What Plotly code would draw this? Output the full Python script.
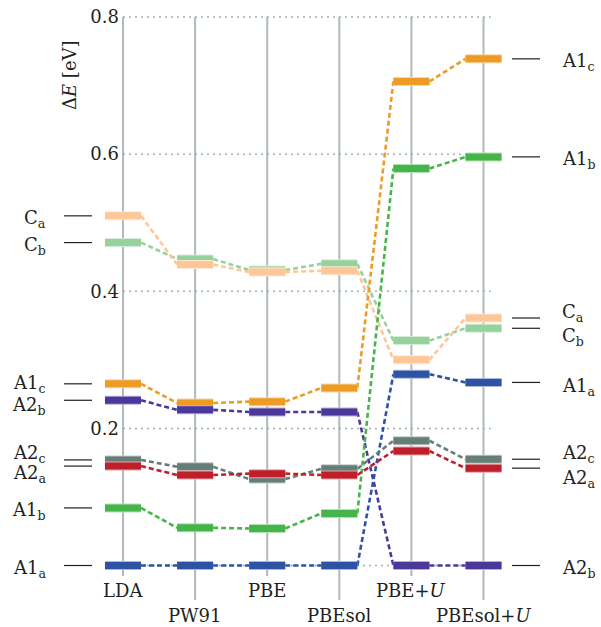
import plotly.graph_objects as go

# Exchange-correlation functionals (one column each)
methods = ["LDA", "PW91", "PBE", "PBEsol", "PBE+<i>U</i>", "PBEsol+<i>U</i>"]

# Relative energies ΔE [eV] of each configuration per functional
Ca  = [0.510, 0.439, 0.428, 0.430, 0.300, 0.361]
Cb  = [0.471, 0.447, 0.431, 0.440, 0.328, 0.346]
A1c = [0.265, 0.237, 0.239, 0.259, 0.706, 0.739]
A2b = [0.241, 0.227, 0.224, 0.224, 0.000, 0.000]
A1b = [0.084, 0.055, 0.054, 0.076, 0.579, 0.596]
A1a = [0.000, 0.000, 0.000, 0.000, 0.279, 0.267]
A2c = [0.154, 0.144, 0.126, 0.141, 0.182, 0.155]
A2a = [0.145, 0.132, 0.134, 0.132, 0.167, 0.142]

y_ticks = [0.2, 0.4, 0.6, 0.8]

# name, label, values, colour, left-label nudge (px), right-label nudge (px)
series = [
    ("Cb",  "C<sub>b</sub>",  Cb,  "#97d19c", 0,   6),
    ("Ca",  "C<sub>a</sub>",  Ca,  "#fdc797", 0,  -8),
    ("A1c", "A1<sub>c</sub>", A1c, "#ee9b25", -3,  0),
    ("A2b", "A2<sub>b</sub>", A2b, "#4b389a", 3,   0),
    ("A1b", "A1<sub>b</sub>", A1b, "#46b549", 0,   0),
    ("A1a", "A1<sub>a</sub>", A1a, "#2d53a4", 0,   2),
    ("A2c", "A2<sub>c</sub>", A2c, "#657e78", -9, -8),
    ("A2a", "A2<sub>a</sub>", A2a, "#bf1f2a", 5,   8),
]

FONT = "DejaVu Serif"
FS = 18
TXT = "#231f20"
W, H = 601, 627
PX_X = 72.1           # pixels per column
X0_PX = 123           # pixel of first column
PX_Y = 685.6          # pixels per eV
Y0_PX = 565.5         # pixel of ΔE = 0

HALF = 0.25           # half bar width (column units)


def tint(hex_col, f):
    h = hex_col.lstrip("#")
    r, g, b = (int(h[i:i + 2], 16) for i in (0, 2, 4))
    r, g, b = (int(c + (255 - c) * f) for c in (r, g, b))
    return f"rgb({r},{g},{b})"


fig = go.Figure()
xs = list(range(len(methods)))
n = len(methods)

for name, label, vals, col, _, _ in series:
    # dashed connectors between neighbouring levels
    cx, cy = [], []
    for i in range(n - 1):
        cx += [xs[i] + HALF, xs[i + 1] - HALF, None]
        cy += [vals[i], vals[i + 1], None]
    fig.add_trace(go.Scatter(x=cx, y=cy, mode="lines",
                             line=dict(color=col, width=2.6, dash="5px,3px"),
                             hoverinfo="skip", showlegend=False))
    # level bars (pale rim + solid core)
    bx, by = [], []
    for i in range(n):
        bx += [xs[i] - HALF, xs[i] + HALF, None]
        by += [vals[i], vals[i], None]
    fig.add_trace(go.Scatter(x=bx, y=by, mode="lines",
                             line=dict(color=tint(col, 0.6), width=9),
                             hoverinfo="skip", showlegend=False))
    fig.add_trace(go.Scatter(x=bx, y=by, mode="lines",
                             line=dict(color=col, width=7),
                             hoverinfo="skip", showlegend=False, name=name))

# short leader lines next to the labels on both sides
lx = (64 - X0_PX) / PX_X, (92 - X0_PX) / PX_X
rx = (512 - X0_PX) / PX_X, (540 - X0_PX) / PX_X
for name, label, vals, col, nl, nr in series:
    fig.add_trace(go.Scatter(x=[lx[0], lx[1], None, rx[0], rx[1]],
                             y=[vals[0], vals[0], None, vals[-1], vals[-1]],
                             mode="lines", line=dict(color=TXT, width=1.2),
                             hoverinfo="skip", showlegend=False))

annotations = []
for name, label, vals, col, nl, nr in series:
    annotations.append(dict(x=(48 - X0_PX) / PX_X, y=vals[0], xref="x", yref="y",
                            text=label, showarrow=False, xanchor="right",
                            yanchor="middle", yshift=-nl - 3,
                            font=dict(family=FONT, size=FS, color=TXT)))
    annotations.append(dict(x=(560 - X0_PX) / PX_X, y=vals[-1], xref="x", yref="y",
                            text=label, showarrow=False, xanchor="left",
                            yanchor="middle", yshift=-nr - 3,
                            font=dict(family=FONT, size=FS, color=TXT)))

# functional names, staggered in two rows
shapes = []
for i, m in enumerate(methods):
    low = i % 2 == 1
    y_lab = (Y0_PX - (615 if low else 590)) / PX_Y
    annotations.append(dict(x=xs[i], y=y_lab, xref="x", yref="y", text=m,
                            showarrow=False, xanchor="center", yanchor="middle",
                            font=dict(family=FONT, size=FS, color=TXT)))
    y_bot = (Y0_PX - (600 if low else 576)) / PX_Y
    shapes.append(dict(type="line", xref="x", yref="y", x0=xs[i], x1=xs[i],
                       y0=y_bot, y1=y_ticks[-1], layer="below",
                       line=dict(color="#aebbb9", width=2)))

# dotted horizontal guides
for t in [0.0] + y_ticks:
    shapes.append(dict(type="line", xref="x", yref="y", x0=0, x1=xs[-1] + 0.1,
                       y0=t, y1=t, layer="below",
                       line=dict(color="#9fb0ae", width=1.5, dash="2px,4px")))

# axis title
annotations.append(dict(x=70 / W, y=1 - 75 / H, xref="paper", yref="paper",
                        text="Δ<i>E</i> [eV]", textangle=-90, showarrow=False,
                        xanchor="center", yanchor="middle",
                        font=dict(family=FONT, size=FS, color=TXT)))

fig.update_layout(
    width=W, height=H,
    margin=dict(l=0, r=0, t=0, b=0),
    paper_bgcolor="white", plot_bgcolor="white",
    showlegend=False,
    font=dict(family=FONT),
    xaxis=dict(range=[-X0_PX / PX_X, (W - X0_PX) / PX_X], visible=False),
    yaxis=dict(range=[-(H - Y0_PX) / PX_Y, Y0_PX / PX_Y],
               anchor="free", position=X0_PX / W,
               tickvals=y_ticks, ticktext=[f"{t:.1f}" for t in y_ticks],
               showgrid=False, zeroline=False, showline=False, ticks="",
               ticklabelstandoff=4,
               tickfont=dict(family=FONT, size=FS, color=TXT)),
    shapes=shapes,
    annotations=annotations,
)

fig.write_html("out.html")
